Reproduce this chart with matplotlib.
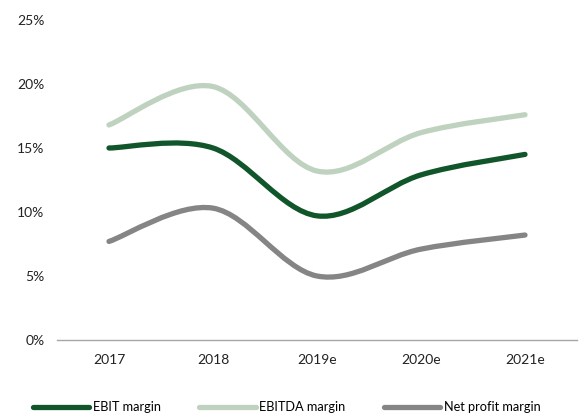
import numpy as np
import matplotlib
matplotlib.use('Agg')
import matplotlib.pyplot as plt
from matplotlib.path import Path
from matplotlib.patches import PathPatch
from matplotlib.lines import Line2D
from matplotlib.ticker import FuncFormatter

# datos
years = ['2017', '2018', '2019e', '2020e', '2021e']
ebit = [15.0, 15.0, 9.7, 12.9, 14.5]
ebitda = [16.8, 19.8, 13.2, 16.2, 17.6]
net = [7.7, 10.3, 5.0, 7.1, 8.2]

series = [('EBIT margin', ebit, '#11552a'),
          ('EBITDA margin', ebitda, '#bfd2bf'),
          ('Net profit margin', net, '#858585')]

plt.rcParams['font.family'] = ['Lato', 'DejaVu Sans']
plt.rcParams['font.size'] = 9.5


def smooth_path(xs, ys):
    # curva suave tipo Excel (bezier con tension 1/6)
    pts = np.column_stack([xs, ys]).astype(float)
    n = len(pts)
    verts = [pts[0]]
    codes = [Path.MOVETO]
    for i in range(n - 1):
        p0 = pts[i - 1] if i > 0 else pts[i]
        p1 = pts[i]
        p2 = pts[i + 1]
        p3 = pts[i + 2] if i + 2 < n else pts[i + 1]
        c1 = p1 + (p2 - p0) / 6.0
        c2 = p2 - (p3 - p1) / 6.0
        verts += [c1, c2, p2]
        codes += [Path.CURVE4] * 3
    return Path(verts, codes)


fig = plt.figure(figsize=(5.81, 4.16), dpi=100)
ax = fig.add_axes([57 / 581, 76 / 416, 520 / 581, (340 - 20) / 416])

x = np.arange(len(years))
handles = []
for name, vals, col in series:
    p = smooth_path(x, vals)
    ax.add_patch(PathPatch(p, facecolor='none', edgecolor=col, lw=3.8,
                           capstyle='round', joinstyle='round'))
    handles.append(Line2D([0], [0], color=col, lw=3.8, solid_capstyle='round', label=name))

ax.set_xlim(-0.5, 4.5)
ax.set_ylim(0, 25)
ax.set_yticks(np.arange(0, 26, 5))
ax.yaxis.set_major_formatter(FuncFormatter(lambda v, pos: '%d%%' % v))
ax.set_xticks(x)
ax.set_xticklabels(years)
ax.tick_params(axis='both', length=0, colors='#222222', labelsize=10)
ax.tick_params(axis='x', pad=10)
ax.tick_params(axis='y', pad=9)

for s in ['top', 'right', 'left']:
    ax.spines[s].set_visible(False)
ax.spines['bottom'].set_color('#a6a6a6')
ax.spines['bottom'].set_linewidth(1.0)

fig.legend(handles=handles, loc='center left', ncol=3, frameon=False,
           bbox_to_anchor=(33 / 581, 9 / 416), borderpad=0, borderaxespad=0,
           handlelength=4.4, handletextpad=0.3, columnspacing=3.0, fontsize=9.2)

fig.savefig('out.png', dpi=100)
